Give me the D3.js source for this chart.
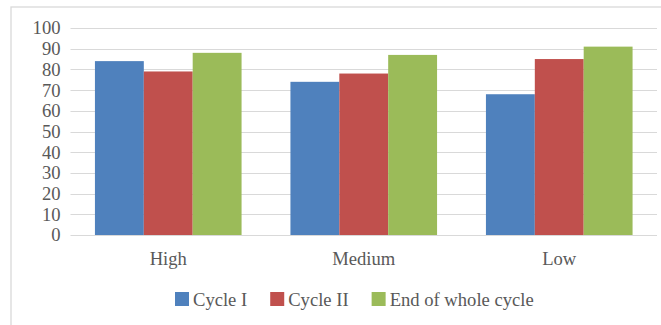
<!DOCTYPE html>
<html>
<head>
<meta charset="utf-8">
<script src="https://cdn.jsdelivr.net/npm/d3@7"></script>
<style>
  html, body { margin: 0; padding: 0; background: #fff; }
  svg { display: block; }
  text { font-family: "Liberation Serif", "Times New Roman", serif; fill: #595959; }
</style>
</head>
<body>
<script>
// Chart data
const categories = ["High", "Medium", "Low"];
const seriesNames = ["Cycle I", "Cycle II", "End of whole cycle"];
const cycleI = [84, 74, 68];
const cycleII = [79, 78, 85];
const endOfWholeCycle = [88, 87, 91];
const yTicks = [0, 10, 20, 30, 40, 50, 60, 70, 80, 90, 100];
const colors = ["#4F81BD", "#C0504D", "#9BBB59"];

const seriesValues = [cycleI, cycleII, endOfWholeCycle];
const FONT = '"Liberation Serif", "Times New Roman", serif';
const FS = "18.6px";

const W = 661, H = 325;
const svg = d3.select("body").append("svg").attr("width", W).attr("height", H);

// Outer chart frame
svg.append("rect")
  .attr("x", 11).attr("y", 7)
  .attr("width", W).attr("height", H)
  .attr("fill", "none").attr("stroke", "#D9D9D9").attr("stroke-width", 1.3);

const plot = { left: 70.5, right: 657, top: 28, bottom: 235 };

const x0 = d3.scaleBand().domain(categories)
  .range([plot.left, plot.right]).paddingInner(0.25).paddingOuter(0.125);
const x1 = d3.scaleBand().domain(seriesNames).range([0, x0.bandwidth()]);
const y = d3.scaleLinear().domain([0, 100]).range([plot.bottom, plot.top]);

// Horizontal gridlines
svg.append("g").selectAll("line").data(yTicks).join("line")
  .attr("x1", plot.left).attr("x2", plot.right)
  .attr("y1", d => Math.round(y(d)) + 0.5).attr("y2", d => Math.round(y(d)) + 0.5)
  .attr("stroke", "#D9D9D9").attr("stroke-width", 1);

// Y axis labels
const yAxis = d3.axisLeft(y).tickValues(yTicks).tickSize(0).tickPadding(0);
const yg = svg.append("g").attr("transform", `translate(${plot.left - 10},0)`).call(yAxis)
  .attr("font-family", FONT).attr("font-size", FS);
yg.select(".domain").remove();
yg.selectAll("text").attr("fill", "#595959");

// Bars
const groups = svg.append("g").selectAll("g").data(categories).join("g")
  .attr("transform", d => `translate(${x0(d)},0)`);
groups.selectAll("rect")
  .data((c, i) => seriesNames.map((s, j) => ({ s, v: seriesValues[j][i], j })))
  .join("rect")
  .attr("x", d => x1(d.s))
  .attr("y", d => y(d.v))
  .attr("width", x1.bandwidth())
  .attr("height", d => y(0) - y(d.v))
  .attr("fill", d => colors[d.j]);

// X axis labels
const xAxis = d3.axisBottom(x0).tickSize(0).tickPadding(0);
const xg = svg.append("g").attr("transform", `translate(0,${plot.bottom + 17})`).call(xAxis)
  .attr("font-family", FONT).attr("font-size", FS);
xg.select(".domain").remove();
xg.selectAll("text").attr("fill", "#595959");

// Legend
const legend = svg.append("g").attr("transform", "translate(175,292)")
  .attr("font-family", FONT).attr("font-size", FS);
let lx = 0;
seriesNames.forEach((name, i) => {
  const item = legend.append("g").attr("transform", `translate(${lx},0)`);
  item.append("rect").attr("width", 14).attr("height", 14).attr("fill", colors[i]);
  const t = item.append("text").attr("x", 18).attr("y", 14).text(name);
  lx += 18 + t.node().getComputedTextLength() + 23;
});
</script>
</body>
</html>
